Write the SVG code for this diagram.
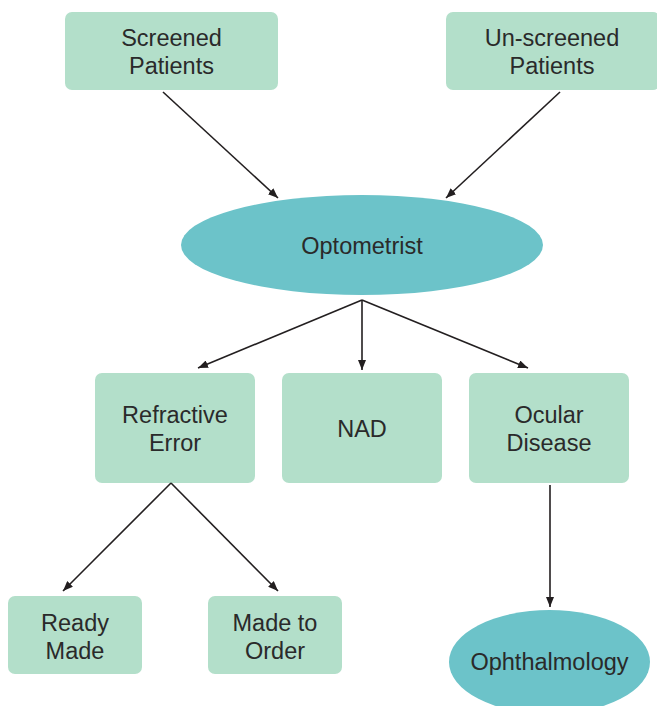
<svg xmlns="http://www.w3.org/2000/svg" width="657" height="706" viewBox="0 0 657 706">
<defs>
<marker id="ah" viewBox="0 0 10 8" refX="10" refY="4" markerWidth="10" markerHeight="8" markerUnits="userSpaceOnUse" orient="auto">
<path d="M0,0 L10,4 L0,8 Z" fill="#231f20"/>
</marker>
</defs>
<style>
.box{fill:#b3dfca}
.ell{fill:#6cc3c9}
text{font-family:"Liberation Sans",Arial,sans-serif;font-size:23.5px;fill:#2a2a2a;text-anchor:middle}
.c line{stroke:#231f20;stroke-width:1.6;marker-end:url(#ah)}
</style>
<rect width="657" height="706" fill="#ffffff"/>
<g id="screened"><rect class="box" x="65" y="12" width="213" height="78" rx="7"/><text x="171.5" y="46">Screened</text><text x="171.5" y="74">Patients</text></g>
<g id="unscreened"><rect class="box" x="446" y="12" width="214" height="78" rx="7"/><text x="552" y="46">Un-screened</text><text x="552" y="74">Patients</text></g>
<g id="optometrist"><ellipse class="ell" cx="362" cy="245" rx="181" ry="50"/><text x="362" y="254">Optometrist</text></g>
<g id="refractive"><rect class="box" x="95" y="373" width="160" height="110" rx="7"/><text x="175" y="423">Refractive</text><text x="175" y="451">Error</text></g>
<g id="nad"><rect class="box" x="282" y="373" width="160" height="110" rx="7"/><text x="362" y="437">NAD</text></g>
<g id="ocular"><rect class="box" x="469" y="373" width="160" height="110" rx="7"/><text x="549" y="423">Ocular</text><text x="549" y="451">Disease</text></g>
<g id="ready"><rect class="box" x="8" y="596" width="134" height="78" rx="7"/><text x="75" y="631">Ready</text><text x="75" y="659">Made</text></g>
<g id="madetoorder"><rect class="box" x="208" y="596" width="134" height="78" rx="7"/><text x="275" y="631">Made to</text><text x="275" y="659">Order</text></g>
<g id="ophthalmology"><ellipse class="ell" cx="549.5" cy="662" rx="100.5" ry="52"/><text x="549.5" y="670">Ophthalmology</text></g>
<g id="connectors" class="c">
<line x1="163" y1="92" x2="278" y2="198"/>
<line x1="560" y1="92" x2="446" y2="198"/>
<line x1="362" y1="300" x2="198" y2="368"/>
<line x1="362" y1="300" x2="362" y2="370"/>
<line x1="362" y1="300" x2="528" y2="368"/>
<line x1="171" y1="483" x2="63" y2="591"/>
<line x1="171" y1="483" x2="278" y2="591"/>
<line x1="550" y1="485" x2="550" y2="607"/>
</g>
</svg>
